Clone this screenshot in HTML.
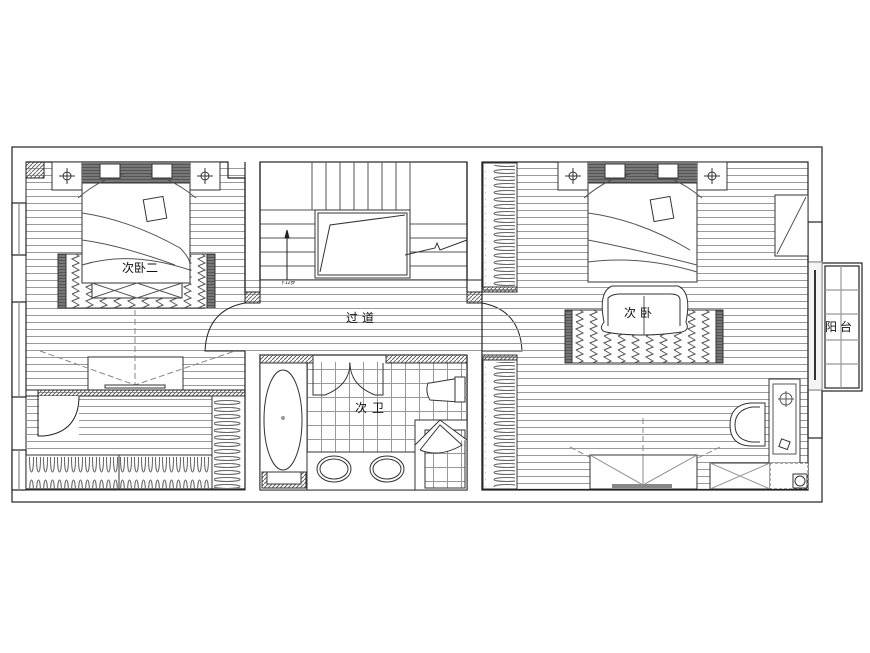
<!DOCTYPE html>
<html><head><meta charset="utf-8"><style>
html,body{margin:0;padding:0;background:#fff;width:870px;height:653px;overflow:hidden}
text{font-family:"Liberation Sans","Noto Sans CJK SC",sans-serif;font-size:12px;fill:#111}
</style></head><body>
<svg width="870" height="653" viewBox="0 0 870 653" xmlns="http://www.w3.org/2000/svg">
<defs>
<pattern id="h" width="10" height="7" patternUnits="userSpaceOnUse"><line x1="0" y1="0.5" x2="10" y2="0.5" stroke="#999" stroke-width="1"/></pattern>
<pattern id="tile" width="14" height="14" patternUnits="userSpaceOnUse" x="307" y="355"><path d="M0 0.5H14M0.5 0V14" stroke="#999" fill="none"/></pattern>
<pattern id="st" width="4" height="4" patternUnits="userSpaceOnUse"><path d="M0 4L4 0" stroke="#666"/></pattern>
<pattern id="dk" width="3" height="3" patternUnits="userSpaceOnUse"><rect width="3" height="3" fill="#555"/><line x1="0" y1="1" x2="3" y2="1" stroke="#999"/></pattern>
<pattern id="zz" width="14" height="14" patternUnits="userSpaceOnUse"><path d="M2 0L9 4L2 7L9 11L2 14" stroke="#555" fill="none"/></pattern>
<pattern id="cl" width="35" height="7" patternUnits="userSpaceOnUse"><ellipse cx="17" cy="3.5" rx="13" ry="2" fill="none" stroke="#666"/></pattern>
<pattern id="clv" width="7" height="34" patternUnits="userSpaceOnUse"><ellipse cx="3.5" cy="17" rx="2" ry="13" fill="none" stroke="#666"/></pattern>
</defs>
<g fill="none" stroke="#222" stroke-width="1.2">
<!-- outer -->
<rect x="12" y="147" width="810" height="355"/>
<!-- left windows -->
<rect x="12" y="203" width="14" height="52" fill="#fff"/>
<rect x="12" y="302" width="14" height="95" fill="#fff"/>
<rect x="12" y="450" width="14" height="40" fill="#fff"/>
<line x1="19" y1="203" x2="19" y2="255" stroke="#888"/><line x1="19" y1="302" x2="19" y2="397" stroke="#888"/><line x1="19" y1="450" x2="19" y2="490" stroke="#888"/>
<!-- right windows -->
<rect x="808" y="222" width="14" height="40" fill="#fff"/>
<rect x="808" y="390" width="14" height="48" fill="#fff"/>
<!-- balcony -->
<rect x="822" y="263" width="40" height="128" fill="#fff"/>
<rect x="825" y="266" width="34" height="122"/>
<path d="M825 290H859M825 314H859M825 340H859M825 364H859M841 266V388" stroke="#999"/>
<rect x="808" y="262" width="14" height="128" fill="#f4f4f4" stroke="#999"/>
<line x1="815" y1="270" x2="815" y2="380" stroke="#333" stroke-width="2"/>
</g>
<!-- left bedroom -->
<path d="M26 162H245V490H26Z" fill="url(#h)"/>
<path d="M26 162H26V490" stroke="#222" fill="none"/>
<path d="M26 162H228V178H245V295" stroke="#222" fill="none" stroke-width="1.2"/>
<rect x="26" y="162" width="18" height="16" fill="url(#st)" stroke="#222"/>
<rect x="52" y="162" width="30" height="28" fill="#fff" stroke="#333"/>
<rect x="190" y="162" width="30" height="28" fill="#fff" stroke="#333"/>
<g stroke="#333" fill="none"><circle cx="67" cy="176" r="4"/><path d="M59 176H75M67 168V184"/><circle cx="205" cy="176" r="4"/><path d="M197 176H213M205 168V184"/></g>
<rect x="58" y="254" width="157" height="54" fill="url(#dk)" stroke="#333"/>
<rect x="66" y="254" width="141" height="54" fill="#fff" stroke="#333"/>
<rect x="66" y="254" width="141" height="54" fill="url(#zz)"/>
<rect x="82" y="162" width="108" height="21" fill="url(#dk)"/>
<rect x="82" y="183" width="108" height="100" fill="#fff" stroke="#333"/>
<rect x="92" y="283" width="90" height="15" fill="#fff" stroke="#333"/>
<path d="M92 283L137 298L182 283M92 298L137 283L182 298" stroke="#555" fill="none"/>
<path d="M78 198Q136 148 196 198M82 213Q130 220 180 248Q190 258 190 265M82 240Q120 245 175 265M82 265Q130 250 190 270" stroke="#555" fill="none"/>
<rect x="100" y="164" width="20" height="14" fill="#fff" stroke="#333"/><rect x="152" y="164" width="20" height="14" fill="#fff" stroke="#333"/>
<rect x="145" y="198" width="20" height="22" fill="#fff" stroke="#333" transform="rotate(-10 155 209)"/>
<text x="140" y="272" text-anchor="middle">次卧二</text>
<!-- TV left -->
<rect x="88" y="357" width="95" height="33" fill="#fff" stroke="#333"/>
<path d="M40 351L135 385L235 351M135 310V385" stroke="#888" stroke-dasharray="6 3" fill="none"/>
<rect x="105" y="385" width="60" height="3" fill="#fff" stroke="#333"/>
<!-- wardrobe room -->
<rect x="26" y="390" width="219" height="6" fill="url(#st)" stroke="#222"/>
<rect x="26" y="390" width="12" height="6" fill="#fff" stroke="#222"/>
<rect x="26" y="396" width="219" height="94" fill="url(#h)"/>
<rect x="39" y="396" width="40" height="43" fill="#fff"/>
<path d="M38 396V436H44M44 436Q79 432 79 396" stroke="#222" fill="none"/>
<rect x="26" y="455" width="186" height="35" fill="#fff" stroke="#333"/>
<rect x="28" y="457" width="182" height="31" fill="url(#clv)"/>
<line x1="119" y1="455" x2="119" y2="490" stroke="#333"/>
<rect x="212" y="396" width="33" height="94" fill="#fff" stroke="#333"/>
<rect x="214" y="398" width="30" height="90" fill="url(#cl)"/>
<line x1="26" y1="489" x2="245" y2="489" stroke="#222" stroke-width="1.2"/>
<!-- stair -->
<rect x="260" y="162" width="207" height="118" fill="#fff" stroke="#222" stroke-width="1.2"/>
<g stroke="#555"><path d="M312 162V210M326 162V210M340 162V210M354 162V210M368 162V210M382 162V210M396 162V210M410 162V210"/>
<path d="M260 210H315M260 224H315M260 238H315M260 252H315M260 266H315M410 224H467M410 238H467M410 252H467M410 266H467"/></g>
<rect x="315" y="210" width="95" height="68" fill="#fff" stroke="#333"/>
<rect x="318" y="213" width="89" height="62" fill="none" stroke="#333"/>
<path d="M320 272L330 225L405 215M405 255L435 248L437 243L440 250L467 240" stroke="#333" fill="none"/>
<path d="M287 280V232M285 238L287 230L289 238Z" stroke="#222" fill="#222"/>
<text x="280" y="284" style="font-size:5px">下12步</text>
<!-- corridor -->
<rect x="245" y="280" width="237" height="75" fill="url(#h)"/>
<rect x="205" y="303" width="40" height="48" fill="url(#h)"/>
<rect x="482" y="303" width="40" height="48" fill="url(#h)"/>
<path d="M245 303Q207 310 205 351H245M482 303Q520 310 522 351H482" stroke="#222" fill="none"/>
<rect x="245" y="292" width="15" height="11" fill="url(#st)" stroke="#222"/>
<rect x="467" y="292" width="15" height="11" fill="url(#st)" stroke="#222"/>
<rect x="467" y="280" width="15" height="12" fill="#fff" stroke="#222"/>
<path d="M245 162V292M260 162V292M245 351V490M260 355V490M467 355V490M482 355V490M467 162V292M482 162V292" stroke="#222" stroke-width="1.2" fill="none"/>
<text x="362" y="322" text-anchor="middle" style="letter-spacing:4px">过道</text>
<!-- bathroom -->
<rect x="260" y="355" width="207" height="135" fill="#fff" stroke="#222" stroke-width="1.2"/>
<rect x="307" y="362" width="160" height="90" fill="url(#tile)"/>
<rect x="260" y="355" width="53" height="8" fill="url(#st)" stroke="#333"/>
<rect x="386" y="355" width="81" height="8" fill="url(#st)" stroke="#333"/>
<path d="M313 363V395H325Q350 385 350 363Q350 385 375 395H383V363" stroke="#333" fill="none"/>
<rect x="260" y="363" width="47" height="127" fill="#fff" stroke="#333"/>
<ellipse cx="283" cy="420" rx="19" ry="50" fill="#fff" stroke="#333"/>
<circle cx="283" cy="418" r="2" fill="#999"/>
<rect x="262" y="472" width="44" height="16" fill="url(#st)" stroke="#333"/>
<rect x="267" y="472" width="34" height="12" fill="#fff" stroke="#333"/>
<rect x="307" y="452" width="108" height="38" fill="#fff" stroke="#333"/>
<ellipse cx="334" cy="469" rx="17" ry="13" fill="#fff" stroke="#333"/><ellipse cx="334" cy="469" rx="14" ry="10" fill="none" stroke="#333"/>
<ellipse cx="387" cy="469" rx="17" ry="13" fill="#fff" stroke="#333"/><ellipse cx="387" cy="469" rx="14" ry="10" fill="none" stroke="#333"/>
<path d="M428 383Q425 392 430 400L460 402V378L430 383Z" fill="#fff" stroke="#333"/>
<rect x="455" y="377" width="10" height="25" fill="#fff" stroke="#333"/>
<rect x="415" y="420" width="52" height="70" fill="#fff" stroke="#333"/>
<rect x="425" y="430" width="40" height="58" fill="url(#tile)" stroke="#333"/>
<path d="M415 445L440 420L467 440M420 450L440 425L462 445Q440 458 420 450" stroke="#333" fill="#fff"/>
<text x="372" y="412" text-anchor="middle" style="letter-spacing:5px">次卫</text>
<!-- right bedroom -->
<rect x="482" y="162" width="326" height="328" fill="url(#h)"/>
<rect x="482" y="162" width="326" height="328" fill="none" stroke="#222" stroke-width="1.2"/>
<rect x="483" y="163" width="34" height="127" fill="#fff" stroke="#333"/>
<rect x="485" y="165" width="30" height="123" fill="url(#cl)"/>
<rect x="482" y="287" width="35" height="5" fill="url(#st)" stroke="#333"/>
<rect x="483" y="357" width="34" height="132" fill="#fff" stroke="#333"/>
<rect x="485" y="362" width="30" height="125" fill="url(#cl)"/>
<rect x="482" y="355" width="35" height="5" fill="url(#st)" stroke="#333"/>
<rect x="558" y="162" width="30" height="28" fill="#fff" stroke="#333"/>
<rect x="697" y="162" width="30" height="28" fill="#fff" stroke="#333"/>
<g stroke="#333" fill="none"><circle cx="573" cy="176" r="4"/><path d="M565 176H581M573 168V184"/><circle cx="712" cy="176" r="4"/><path d="M704 176H720M712 168V184"/></g>
<rect x="588" y="162" width="109" height="21" fill="url(#dk)"/>
<rect x="588" y="183" width="109" height="99" fill="#fff" stroke="#333"/>
<path d="M584 198Q642 148 702 198M588 213Q640 220 690 250M588 240Q630 248 697 265M588 262Q640 255 697 272" stroke="#555" fill="none"/>
<rect x="605" y="164" width="20" height="14" fill="#fff" stroke="#333"/><rect x="658" y="164" width="20" height="14" fill="#fff" stroke="#333"/>
<rect x="652" y="198" width="20" height="22" fill="#fff" stroke="#333" transform="rotate(-10 662 209)"/>
<rect x="565" y="310" width="158" height="53" fill="url(#dk)" stroke="#333"/>
<rect x="572" y="310" width="144" height="53" fill="#fff" stroke="#333"/>
<rect x="572" y="310" width="144" height="53" fill="url(#zz)"/>
<path d="M604 322Q598 292 612 286H678Q692 292 686 322Q690 330 682 332Q660 335 644 335Q620 335 606 332Q598 330 604 322Z" fill="#fff" stroke="#333"/>
<path d="M608 326V298Q612 294 620 294H670Q680 294 680 300V326" stroke="#333" fill="none"/>
<line x1="644" y1="296" x2="644" y2="335" stroke="#555"/>
<text x="640" y="317" text-anchor="middle" style="letter-spacing:4px">次卧</text>
<rect x="775" y="195" width="33" height="61" fill="#fff" stroke="#333"/>
<line x1="777" y1="254" x2="806" y2="197" stroke="#555"/>
<rect x="769" y="379" width="31" height="84" fill="#fff" stroke="#333"/>
<rect x="773" y="384" width="23" height="70" fill="none" stroke="#555"/>
<circle cx="786" cy="399" r="6" fill="none" stroke="#555"/><path d="M778 399H794M786 391V407" stroke="#555"/>
<rect x="780" y="440" width="9" height="8" fill="none" stroke="#333" transform="rotate(20 784 444)"/>
<path d="M765 403H750Q730 405 730 425Q730 445 750 446H765Z" fill="#fff" stroke="#333"/>
<path d="M760 407H752Q735 410 735 425Q735 440 752 442H760" fill="none" stroke="#333"/>
<path d="M570 447L643 485L720 447M643 418V485" stroke="#888" stroke-dasharray="6 3" fill="none"/>
<rect x="590" y="455" width="107" height="34" fill="#fff" stroke="#333"/>
<path d="M590 455L643 485L697 455M643 455V485" stroke="#888" fill="none"/>
<rect x="612" y="484" width="60" height="4" fill="#888"/>
<rect x="710" y="463" width="60" height="26" fill="#fff" stroke="#333"/>
<path d="M710 463L770 489M770 463L710 489" stroke="#999"/>
<rect x="770" y="463" width="38" height="26" fill="#fff" stroke="#555" stroke-dasharray="3 2"/>
<rect x="793" y="474" width="14" height="14" fill="#fff" stroke="#333"/><circle cx="800" cy="481" r="5" fill="none" stroke="#333"/>
<line x1="482" y1="489.5" x2="808" y2="489.5" stroke="#222" stroke-width="1.2"/>
<text x="840" y="331" text-anchor="middle" style="letter-spacing:3px">阳台</text>
</svg>
</body></html>
